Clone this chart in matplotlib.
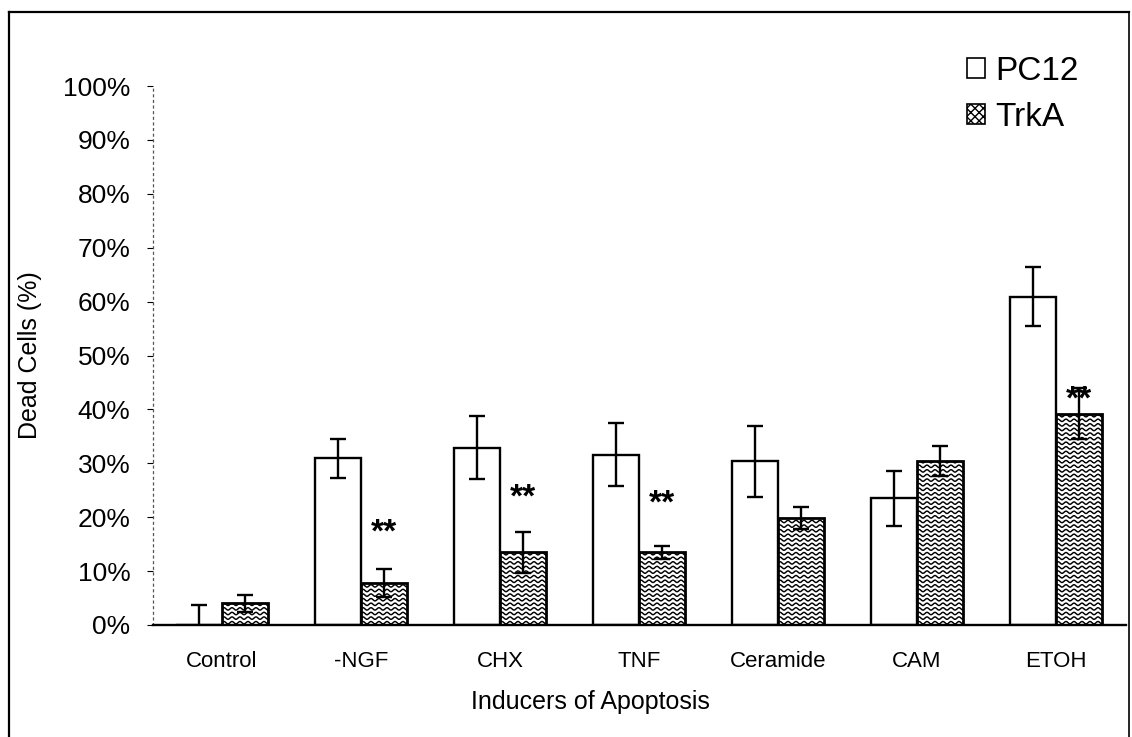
import numpy as np
import matplotlib.pyplot as plt
from matplotlib.patches import Rectangle
from matplotlib.lines import Line2D

plt.rcParams['font.family'] = ['Liberation Sans', 'DejaVu Sans']

categories = ['Control', '-NGF', 'CHX', 'TNF', 'Ceramide', 'CAM', 'ETOH']
pc12 = [0.0, 30.9, 32.9, 31.6, 30.4, 23.5, 60.9]
pc12_err = [3.8, 3.6, 5.8, 5.8, 6.6, 5.1, 5.5]
trka = [4.0, 7.8, 13.5, 13.5, 19.8, 30.4, 39.2]
trka_err = [1.6, 2.6, 3.8, 1.2, 2.0, 2.8, 4.7]
# significance marks (** drawn above the TrkA bars)
star_idx = [1, 2, 3, 6]
star_y = [17.0, 23.5, 22.5, 41.8]

W, H = 1132, 737
fig = plt.figure(figsize=(W / 100, H / 100), dpi=100)
ax = fig.add_axes([152.5 / W, (H - 625) / H, (1125.5 - 152.5) / W, (625 - 86) / H])

x = np.arange(len(categories))
bw = 0.33
bars1 = ax.bar(x - bw / 2, pc12, bw, color='white', edgecolor='black', linewidth=1.7, zorder=2)
bars2 = ax.bar(x + bw / 2, trka, bw, color='white', edgecolor='black', linewidth=2.0, zorder=2)

ax.errorbar(x - bw / 2, pc12, yerr=pc12_err, fmt='none', ecolor='black',
            elinewidth=1.7, capsize=6, capthick=1.7, zorder=4)
ax.errorbar(x + bw / 2, trka, yerr=trka_err, fmt='none', ecolor='black',
            elinewidth=1.7, capsize=6, capthick=1.7, zorder=4)

ax.set_xlim(-0.5, len(categories) - 0.5)
ax.set_ylim(0, 100)

# wavy fill inside the TrkA bars
wave_len = 8.0 / 139      # x units
wave_amp = 1.2 / 5.39     # y units (percent)
row_gap = 4.6 / 5.39
for b in bars2:
    x0, w, h = b.get_x(), b.get_width(), b.get_height()
    xs = np.linspace(x0, x0 + w, 200)
    for yy in np.arange(row_gap / 2, h, row_gap):
        ln, = ax.plot(xs, yy + wave_amp * np.sin(2 * np.pi * (xs - x0) / wave_len),
                      color='black', linewidth=1.05, zorder=3)
        ln.set_clip_path(b)

for i, sy in zip(star_idx, star_y):
    ax.text(x[i] + bw / 2, sy, '**', ha='center', va='center',
            fontsize=24, fontweight='bold', zorder=5)

ax.set_yticks(np.arange(0, 101, 10))
ax.set_yticklabels([f'{v}%' for v in range(0, 101, 10)], fontsize=19)
ax.set_xticks(x)
ax.set_xticklabels(categories, fontsize=16)
ax.tick_params(axis='x', length=0, pad=19)
ax.tick_params(axis='y', length=4, width=0.8, pad=12, color='black')

for s in ['top', 'right']:
    ax.spines[s].set_visible(False)
ax.spines['left'].set_linestyle((0, (1.5, 3)))
ax.spines['left'].set_linewidth(0.9)
ax.spines['left'].set_color('#555555')
ax.spines['bottom'].set_linewidth(1.7)

ax.set_ylabel('Dead Cells (%)', fontsize=18)
ax.yaxis.set_label_coords((42 - 152.5) / (1125.5 - 152.5), 0.5)
fig.text(590 / W, 1 - 702 / H, 'Inducers of Apoptosis', ha='center', va='center', fontsize=18)

# legend
h1 = Rectangle((0, 0), 1, 1, facecolor='white', edgecolor='black', linewidth=1.2)
h2 = Rectangle((0, 0), 1, 1, facecolor='white', edgecolor='black', linewidth=1.2, hatch='xxxx')
leg = fig.legend([h1, h2], ['PC12', 'TrkA'], loc='upper left',
                 bbox_to_anchor=(937 / W, 1 - 26 / H), frameon=False, fontsize=24,
                 handlelength=0.55, handleheight=0.55, handletextpad=0.3, labelspacing=0.45)

# outer frame
fig.add_artist(Line2D([9 / W, 9 / W], [0, 1 - 12 / H], color='black', linewidth=1.6))
fig.add_artist(Line2D([9 / W, 1129 / W], [1 - 12 / H, 1 - 12 / H], color='black', linewidth=1.6))
fig.add_artist(Line2D([1129 / W, 1129 / W], [0, 1 - 12 / H], color='black', linewidth=1.2))

fig.savefig('out.png', dpi=100)
